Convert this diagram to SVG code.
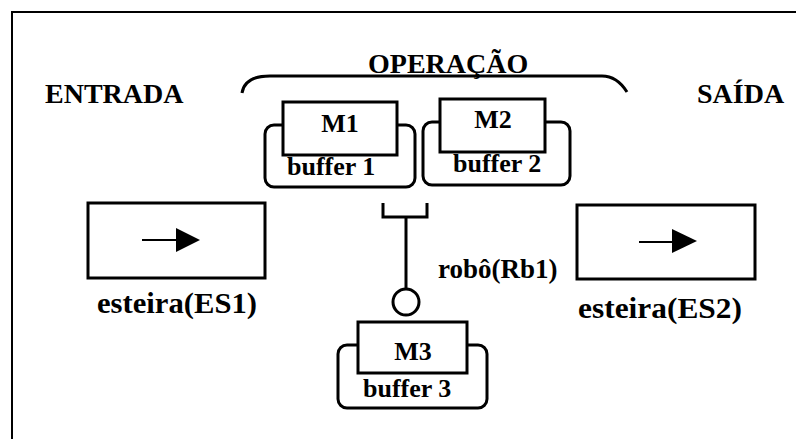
<svg xmlns="http://www.w3.org/2000/svg" width="796" height="439" viewBox="0 0 796 439">
<style>
text{font-family:"Liberation Serif","Times New Roman",serif;font-weight:bold;fill:#000}
.big{font-size:28px}
.lbl{font-size:26px}
.est{font-size:29px}
.box{fill:#fff;stroke:#000;stroke-width:3}
.buf{fill:#fff;stroke:#000;stroke-width:3}
.ln{fill:none;stroke:#000;stroke-width:3}
</style>
<rect width="796" height="439" fill="#fff"/>
<path d="M12,439 V12 H796" fill="none" stroke="#000" stroke-width="2"/>
<text class="big" x="45" y="103">ENTRADA</text>
<text class="big" x="697" y="103">SAÍDA</text>
<text class="big" x="368" y="73">OPERAÇÃO</text>
<path class="ln" d="M242,93 C244,80 256,76 270,76 L602,76 C615,76 622,84 627,92"/>
<g id="buffer1">
<rect class="buf" x="265" y="125" width="150" height="62" rx="9"/>
<rect class="box" x="283" y="102" width="114" height="53"/>
<text class="lbl" x="340" y="132" text-anchor="middle">M1</text>
<text class="lbl" x="287" y="175">buffer 1</text>
</g>
<g id="buffer2">
<rect class="buf" x="423" y="122" width="147" height="63" rx="9"/>
<rect class="box" x="440" y="99" width="105" height="53"/>
<text class="lbl" x="493" y="128" text-anchor="middle">M2</text>
<text class="lbl" x="453" y="172">buffer 2</text>
</g>
<g id="esteira1">
<rect class="box" x="88" y="203" width="177" height="75"/>
<path d="M142,240 H178" stroke="#000" stroke-width="2"/>
<path d="M176,228 L200,240 L176,252 Z" fill="#000"/>
<text class="est" x="97" y="313" textLength="160" lengthAdjust="spacingAndGlyphs">esteira(ES1)</text>
</g>
<g id="esteira2">
<rect class="box" x="577" y="205" width="178" height="74"/>
<path d="M639,242 H674" stroke="#000" stroke-width="2"/>
<path d="M672,229 L697,241 L672,253 Z" fill="#000"/>
<text class="est" x="578" y="318" textLength="164" lengthAdjust="spacingAndGlyphs">esteira(ES2)</text>
</g>
<g id="robo">
<path class="ln" d="M383,203 V217 H427 V203"/>
<path class="ln" d="M406,217 V288"/>
<circle cx="406" cy="302" r="13" fill="#fff" stroke="#000" stroke-width="3"/>
<text class="big" x="438" y="278" style="font-size:27px">robô(Rb1)</text>
</g>
<g id="buffer3">
<rect class="buf" x="338" y="345" width="149" height="63" rx="9"/>
<rect class="box" x="358" y="322" width="109" height="51"/>
<text class="lbl" x="413" y="360" text-anchor="middle">M3</text>
<text class="lbl" x="363" y="397">buffer 3</text>
</g>
</svg>
